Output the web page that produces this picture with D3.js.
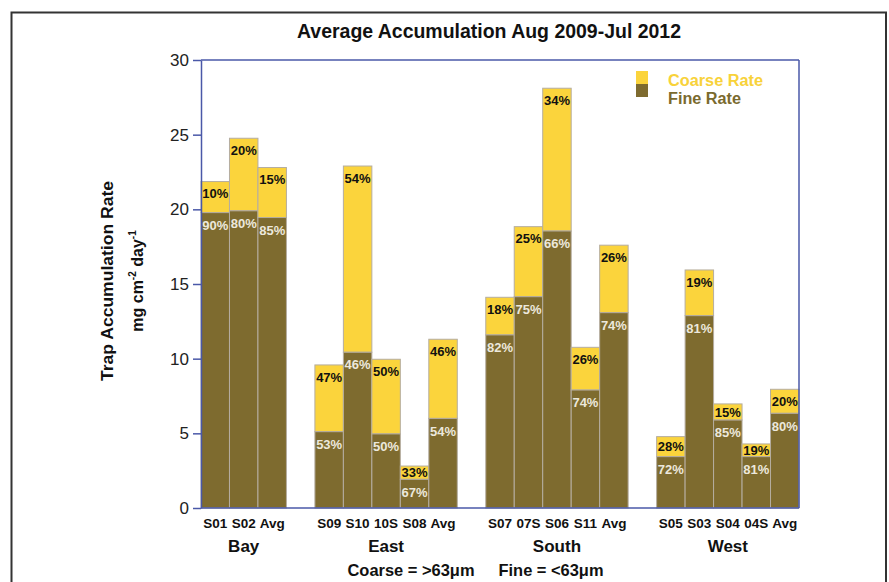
<!DOCTYPE html>
<html>
<head>
<meta charset="utf-8">
<script src="https://cdn.jsdelivr.net/npm/d3@7/dist/d3.min.js"></script>
<style>
  html, body { margin: 0; padding: 0; background: #fff; }
  svg { display: block; font-family: "Liberation Sans", Arial, Helvetica, sans-serif; }
</style>
</head>
<body>
<svg id="chart" width="889" height="582"></svg>
<script>
// ---- data ----
const groups = ["Bay", "East", "South", "West"];
const siteGroup = ["Bay","Bay","Bay","East","East","East","East","East","South","South","South","South","South","West","West","West","West","West"];
const siteLabels = ["S01","S02","Avg","S09","S10","10S","S08","Avg","S07","07S","S06","S11","Avg","S05","S03","S04","04S","Avg"];
const totalRate = [21.86, 24.76, 22.8, 9.58, 22.9, 9.96, 2.81, 11.3, 14.11, 18.84, 28.11, 10.76, 17.6, 4.78, 15.94, 6.97, 4.29, 7.95];
const fineRate  = [19.78, 19.9, 19.45, 5.11, 10.43, 4.96, 1.92, 6.0, 11.59, 14.15, 18.55, 7.9, 13.08, 3.44, 12.88, 5.89, 3.44, 6.34];
const coarsePct = ["10%","20%","15%","47%","54%","50%","33%","46%","18%","25%","34%","26%","26%","28%","19%","15%","19%","20%"];
const finePct   = ["90%","80%","85%","53%","46%","50%","67%","54%","82%","75%","66%","74%","74%","72%","81%","85%","81%","80%"];
const yTicks = [0, 5, 10, 15, 20, 25, 30];
const seriesNames = ["Coarse Rate", "Fine Rate"];

// ---- styles ----
const cCoarse = "#fbd43c", cFine = "#7e6b2f", cAxis = "#4a58a8";
const svg = d3.select("#chart");
const L = 201, R = 799, T = 60, B = 508;

// slot domain with gap slots between groups
const slots = [];
const siteSlot = [];
groups.forEach((g, gi) => {
  if (gi > 0) slots.push("gap" + gi);
  siteLabels.forEach((s, i) => {
    if (siteGroup[i] === g) { const k = g + "_" + i; slots.push(k); siteSlot[i] = k; }
  });
});
const x = d3.scaleBand().domain(slots).range([L, R]).padding(0);
const y = d3.scaleLinear().domain([0, 30]).range([B, T]);

// outer frame
svg.append("rect").attr("x", 11.5).attr("y", 12.5).attr("width", 874.5).attr("height", 600)
  .attr("fill", "none").attr("stroke", "#333").attr("stroke-width", 2);

// title
svg.append("text").attr("x", 489).attr("y", 38).attr("text-anchor", "middle")
  .attr("font-size", 20).attr("font-weight", "bold").attr("fill", "#111")
  .attr("textLength", 384).attr("lengthAdjust", "spacingAndGlyphs")
  .text("Average Accumulation Aug 2009-Jul 2012");

// bars
const bars = svg.append("g");
siteLabels.forEach((s, i) => {
  const bx = x(siteSlot[i]), bw = x.bandwidth();
  bars.append("rect").attr("x", bx).attr("y", y(totalRate[i])).attr("width", bw)
    .attr("height", y(fineRate[i]) - y(totalRate[i]))
    .attr("fill", cCoarse).attr("stroke", "#b5ada0").attr("stroke-width", 1);
  bars.append("rect").attr("x", bx).attr("y", y(fineRate[i])).attr("width", bw)
    .attr("height", y(0) - y(fineRate[i]))
    .attr("fill", cFine).attr("stroke", "#b5ada0").attr("stroke-width", 1);
  const ct = y(totalRate[i]), cb = y(fineRate[i]);
  const cy = Math.min(ct + 12, (ct + cb) / 2);
  bars.append("text").attr("x", bx + bw / 2).attr("y", cy).attr("dy", "0.36em")
    .attr("text-anchor", "middle").attr("font-size", 13).attr("font-weight", "bold")
    .attr("fill", "#111").text(coarsePct[i]);
  const ft = y(fineRate[i]), fb = y(0);
  const fy = Math.min(ft + 12.5, (ft + fb) / 2);
  bars.append("text").attr("x", bx + bw / 2).attr("y", fy).attr("dy", "0.36em")
    .attr("text-anchor", "middle").attr("font-size", 13).attr("font-weight", "bold")
    .attr("fill", "#ece8dc").text(finePct[i]);
});

// frame lines (top, right)
svg.append("line").attr("x1", L).attr("x2", R).attr("y1", T).attr("y2", T).attr("stroke", cAxis).attr("stroke-width", 1.5);
svg.append("line").attr("x1", R).attr("x2", R).attr("y1", T).attr("y2", B).attr("stroke", cAxis).attr("stroke-width", 1.5);

// y axis
const yAxis = d3.axisLeft(y).tickValues(yTicks).tickSize(8).tickPadding(4).tickSizeOuter(0);
const gy = svg.append("g").attr("transform", `translate(${L},0)`).call(yAxis);
gy.select(".domain").attr("stroke", cAxis).attr("stroke-width", 1.5);
gy.selectAll(".tick line").attr("stroke", cAxis).attr("stroke-width", 1.5);
gy.selectAll(".tick text").attr("font-size", 17).attr("fill", "#222")
  .attr("font-family", "'Liberation Sans', Arial, sans-serif");

// x axis baseline
svg.append("line").attr("x1", L).attr("x2", R).attr("y1", B).attr("y2", B).attr("stroke", cAxis).attr("stroke-width", 1.5);

// site labels
siteLabels.forEach((s, i) => {
  svg.append("text").attr("x", x(siteSlot[i]) + x.bandwidth() / 2).attr("y", 528)
    .attr("text-anchor", "middle").attr("font-size", 13.5).attr("font-weight", "bold")
    .attr("fill", "#111").text(s);
});
// group labels
groups.forEach(g => {
  const idx = siteGroup.map((d, i) => d === g ? i : -1).filter(i => i >= 0);
  const x0 = x(siteSlot[idx[0]]), x1 = x(siteSlot[idx[idx.length - 1]]) + x.bandwidth();
  svg.append("text").attr("x", (x0 + x1) / 2).attr("y", 552).attr("text-anchor", "middle")
    .attr("font-size", 17).attr("font-weight", "bold").attr("fill", "#111").text(g);
});
// footnote
svg.append("text").attr("x", 411).attr("y", 576).attr("text-anchor", "middle")
  .attr("font-size", 17).attr("font-weight", "bold").attr("fill", "#111")
  .attr("textLength", 127).attr("lengthAdjust", "spacingAndGlyphs").text("Coarse = >63\u03bcm");
svg.append("text").attr("x", 551).attr("y", 576).attr("text-anchor", "middle")
  .attr("font-size", 17).attr("font-weight", "bold").attr("fill", "#111")
  .attr("textLength", 105).attr("lengthAdjust", "spacingAndGlyphs").text("Fine = <63\u03bcm");

// y title
const yt = svg.append("g").attr("transform", "translate(107,281) rotate(-90)");
yt.append("text").attr("x", 0).attr("y", 6).attr("text-anchor", "middle")
  .attr("font-size", 16).attr("font-weight", "bold").attr("fill", "#111")
  .attr("textLength", 200).attr("lengthAdjust", "spacingAndGlyphs").text("Trap Accumulation Rate");
const yt2 = svg.append("g").attr("transform", "translate(137,281) rotate(-90)");
const t2 = yt2.append("text").attr("x", 0).attr("y", 6).attr("text-anchor", "middle")
  .attr("font-size", 16).attr("font-weight", "bold").attr("fill", "#111");
t2.append("tspan").text("mg cm");
t2.append("tspan").attr("font-size", 10).attr("dy", -7).text("-2");
t2.append("tspan").attr("dy", 7).text(" day");
t2.append("tspan").attr("font-size", 10).attr("dy", -7).text("-1");

// legend
const legColors = [cCoarse, cFine];
const legText = ["#f8d23a", "#7a6a2e"];
const legW = [95, 73];
seriesNames.forEach((n, i) => {
  svg.append("rect").attr("x", 636).attr("y", 71 + i * 13).attr("width", 12).attr("height", 13)
    .attr("fill", legColors[i]);
  svg.append("text").attr("x", 668).attr("y", 86 + i * 18).attr("font-size", 16)
    .attr("font-weight", "bold").attr("fill", legText[i])
    .attr("textLength", legW[i]).attr("lengthAdjust", "spacingAndGlyphs").text(n);
});
</script>
</body>
</html>
